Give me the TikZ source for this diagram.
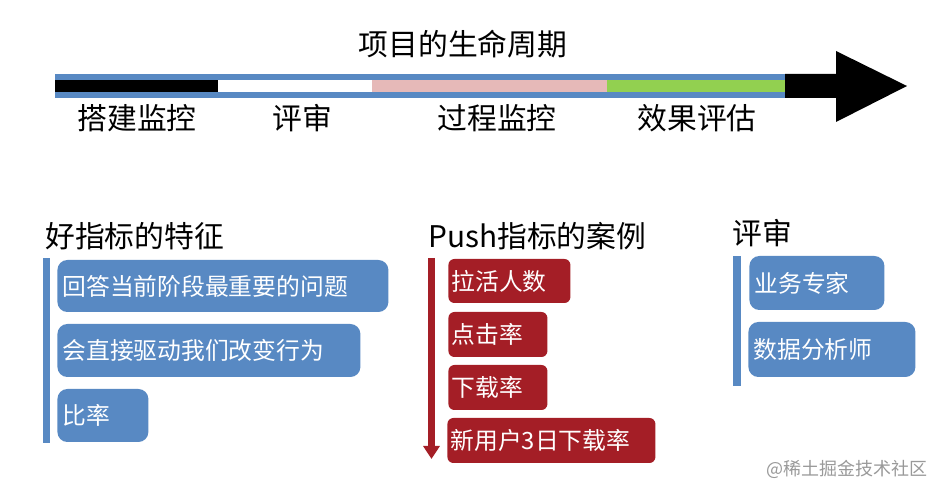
\documentclass[tikz,border=0pt]{standalone}
\usepackage{fontspec}
\setmainfont{Noto Sans CJK SC}
\usetikzlibrary{arrows.meta}
\definecolor{barblue}{RGB}{88,137,195}
\definecolor{boxred}{RGB}{164,30,38}
\definecolor{stagepink}{RGB}{230,185,184}
\definecolor{stagegreen}{RGB}{146,208,80}
\begin{document}
\begin{tikzpicture}[x=0.5pt,y=-0.5pt,
  head/.style={inner sep=0pt,font=\fontsize{14.9pt}{16pt}\selectfont},
  bluebox/.style={fill=barblue,rounded corners=5pt,text=white,anchor=west,align=left,inner sep=2.5pt,font=\fontsize{11.9pt}{13pt}\selectfont},
  redbox/.style={fill=boxred,rounded corners=3pt,text=white,anchor=west,align=left,inner sep=1.5pt,font=\fontsize{11.9pt}{13pt}\selectfont}]
\useasboundingbox (0,0) rectangle (943,496);
% timeline
\node[head] (title) at (463,44) {项目的生命周期};
\fill[barblue] (55,74) rectangle (785,98);
\fill[black] (55,80) rectangle (218,92);
\fill[white] (218,80) rectangle (372,92);
\fill[stagepink] (372,80) rectangle (607,92);
\fill[stagegreen] (607,80) rectangle (785,92);
\fill[black] (785,74) -- (836,74) -- (836,51) -- (907,86) -- (836,122) -- (836,98) -- (785,98) -- cycle;
\node[head] (s1) at (137,118) {搭建监控};
\node[head] (s2) at (302,118) {评审};
\node[head] (s3) at (497,118) {过程监控};
\node[head] (s4) at (697,118) {效果评估};
% good metrics
\node[head,anchor=west] (good) at (45,236) {好指标的特征};
\fill[barblue] (43,258) rectangle (50,443);
\node[bluebox,text width=160.5pt,minimum height=26pt] (g1) at (57,286) {回答当前阶段最重要的问题};
\node[bluebox,text width=146.5pt,minimum height=26.5pt] (g2) at (57,350.5) {会直接驱动我们改变行为};
\node[bluebox,text width=40.5pt,minimum height=26.5pt] (g3) at (57,415.5) {比率};
% push case
\node[head,anchor=west] (push) at (428,236) {Push指标的案例};
\coordinate (ptop) at (431.5,258);
\coordinate (pend) at (431.5,459);
\draw[boxred,line width=3.5pt,-{Triangle[width=8pt,length=6.5pt]}] (ptop) -- (pend);
\node[redbox,text width=58pt,minimum height=22pt] (p1) at (448,281) {拉活人数};
\node[redbox,text width=46.5pt,minimum height=22.5pt] (p2) at (448,334.5) {点击率};
\node[redbox,text width=46.5pt,minimum height=22.5pt] (p3) at (448,387.5) {下载率};
\node[redbox,text width=101pt,minimum height=22.5pt] (p4) at (447,440.5) {新用户3日下载率};
% review
\node[head,anchor=west] (review) at (732,233) {评审};
\fill[barblue] (733,256) rectangle (741,386);
\node[bluebox,text width=62.5pt,minimum height=27pt] (r1) at (749,283) {业务专家};
\node[bluebox,text width=78.5pt,minimum height=27.5pt] (r2) at (748,349.5) {数据分析师};
\node[text=black!40,inner sep=0pt,font=\fontsize{9pt}{10pt}\selectfont] (mark) at (847,469) {@稀土掘金技术社区};
\end{tikzpicture}
\end{document}
